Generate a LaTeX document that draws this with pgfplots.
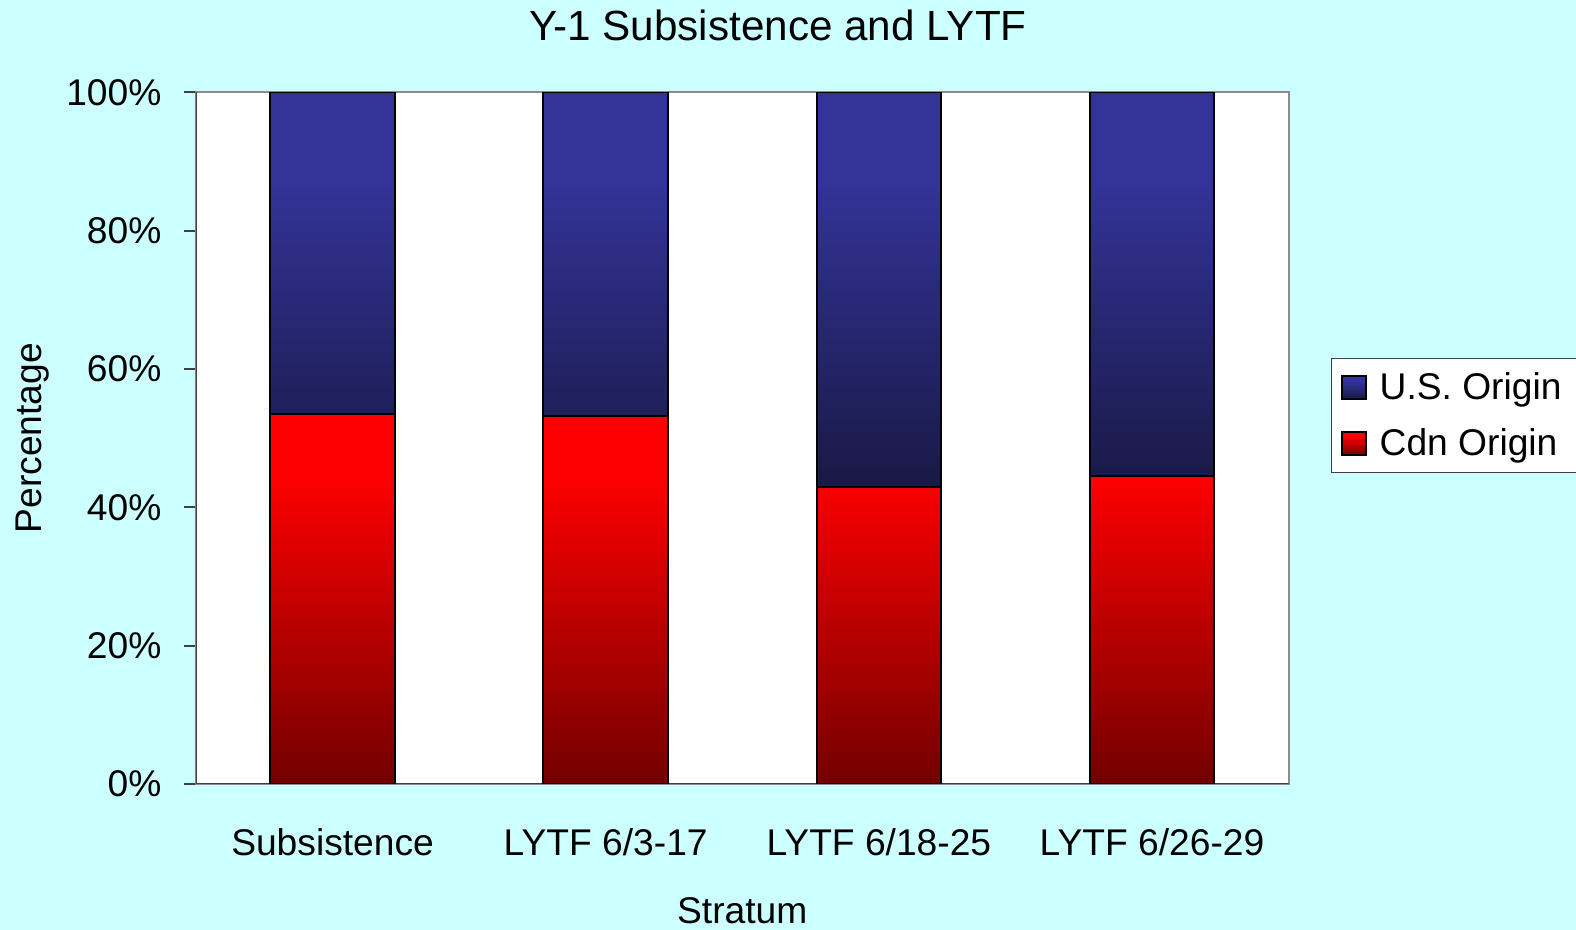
\documentclass[border=0pt]{standalone}
\usepackage{fontspec}
\setmainfont{Liberation Sans}
\usepackage{pgfplots}
\pgfplotsset{compat=1.18}
\definecolor{bgcyan}{HTML}{CCFFFF}
\definecolor{ustop}{HTML}{333399}
\definecolor{usbot}{HTML}{191946}
\definecolor{cdntop}{HTML}{FF0000}
\definecolor{cdnbot}{HTML}{720000}
\definecolor{framegray}{HTML}{8C8C8C}
\definecolor{axisdark}{HTML}{404040}
\pgfdeclareverticalshading{redbar}{100bp}{color(0bp)=(cdnbot); color(25bp)=(cdnbot); color(67bp)=(cdntop); color(100bp)=(cdntop)}
\pgfdeclareverticalshading{bluebar}{100bp}{color(0bp)=(usbot); color(25bp)=(usbot); color(64bp)=(ustop); color(100bp)=(ustop)}
\begin{document}
\begin{tikzpicture}
\fill[bgcyan] (-97.5pt,-72.5pt) rectangle (686.5pt,390pt);
\begin{axis}[
  scale only axis, width=543.5pt, height=344pt,
  ybar stacked, bar width=62pt,
  xmin=-0.5, xmax=3.5, ymin=0, ymax=100,
  xtick={0,1,2,3},
  xticklabels={Subsistence, LYTF 6/3-17, LYTF 6/18-25, LYTF 6/26-29},
  ytick={0,20,40,60,80,100},
  yticklabels={0\%,20\%,40\%,60\%,80\%,100\%},
  ytick pos=left,
  x tick style={draw=none},
  y tick style={draw=axisdark, line width=1pt},
  tick align=outside, major tick length=6pt,
  axis line style={draw=framegray, line width=1pt},
  axis background/.style={fill=white},
  /pgf/number format/assume math mode=true,
  ticklabel style={font=\fontsize{18.5}{22}\selectfont},
  yticklabel style={anchor=east, inner sep=0pt, xshift=-11pt},
  xticklabel style={anchor=base, inner sep=0pt, yshift=-29.5pt},
  title={Y-1 Subsistence and LYTF},
  title style={font=\fontsize{21}{25}\selectfont, at={(axis description cs:0.5327,1.080)}, anchor=center},
  xlabel={Stratum},
  xlabel style={font=\fontsize{18.5}{22}\selectfont, at={(axis description cs:0.5,-0.1831)}, anchor=center},
  ylabel={Percentage},
  ylabel style={font=\fontsize{18.5}{22}\selectfont, at={(axis description cs:-0.15,0.5)}, anchor=center, rotate=0},
  legend style={draw=axisdark, line width=0.7pt, fill=white, at={(1.0386,0.6163)}, anchor=north west,
    font=\fontsize{18.5}{22}\selectfont, inner xsep=5pt, inner ysep=5pt, row sep=9pt,
    /tikz/every odd column/.append style={column sep=4.5pt}},
  legend cell align=left,
  reverse legend,
  legend image code/.code={\draw[#1, draw=black, line width=1pt] (0pt,-5.75pt) rectangle (11.5pt,5.75pt);},
]
\addplot[draw=black, line width=1pt, shading=redbar] coordinates {(0,53.5) (1,53.2) (2,43.0) (3,44.6)};
\addplot[draw=black, line width=1pt, shading=bluebar] coordinates {(0,46.5) (1,46.8) (2,57.0) (3,55.4)};
\legend{Cdn Origin\hspace*{4pt}, U.S. Origin\hspace*{4pt}}
\draw[axisdark, line width=1.3pt] (rel axis cs:0,1) -- (rel axis cs:0,0) -- (rel axis cs:1,0);
\end{axis}
\pgfresetboundingbox
\useasboundingbox (-97.5pt,-72.5pt) rectangle (686.5pt,390pt);
\end{tikzpicture}
\end{document}
